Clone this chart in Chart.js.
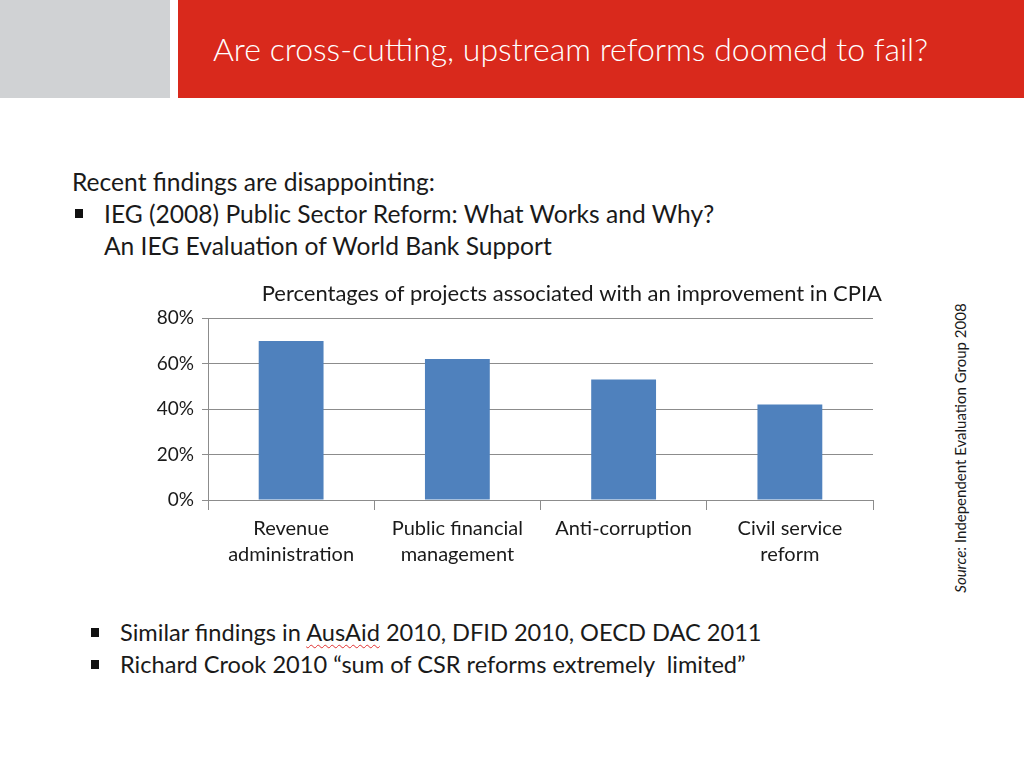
<!DOCTYPE html>
<html>
<head>
<meta charset="utf-8">
<script src="https://cdn.jsdelivr.net/npm/chart.js@4"></script>
<style>
  html, body { margin:0; padding:0; background:#fff; width:1024px; height:768px; overflow:hidden; font-family: Lato, "Open Sans", sans-serif; color:#1a1a1a; }
  .gray { position:absolute; left:0; top:0; width:170px; height:98px; background:#d0d2d4; }
  .red { position:absolute; left:178px; top:0; width:846px; height:98px; background:#d9291c; }
  .title { position:absolute; left:213px; top:29px; color:#fff; font-size:32px; font-weight:300; white-space:nowrap; line-height:40px; }
  .t { position:absolute; white-space:nowrap; font-size:24.6px; line-height:30px; }
  .t2 { position:absolute; white-space:nowrap; font-size:23.6px; line-height:30px; }
  .b { position:absolute; width:8px; height:9px; background:#111; }
  .wavy { text-decoration: underline wavy #e03030; text-decoration-thickness:1px; text-underline-offset:3px; }
  #wrap { position:absolute; left:130px; top:278px; width:760px; height:300px; }
  .src { position:absolute; left:960px; top:448px; transform: translate(-50%,-50%) rotate(-90deg); white-space:nowrap; font-size:15px; }
</style>
</head>
<body>
<div class="gray"></div>
<div class="red"></div>
<div class="title">Are cross-cutting, upstream reforms doomed to fail?</div>

<div class="t" style="left:72px; top:167px;">Recent findings are disappointing:</div>
<div class="b" style="left:75px; top:209px;"></div>
<div class="t" style="left:104px; top:199px;">IEG (2008) Public Sector Reform: What Works and Why?</div>
<div class="t" style="left:104px; top:231px;">An IEG Evaluation of World Bank Support</div>

<div class="b" style="left:91px; top:628px;"></div>
<div class="t2" style="left:120px; top:617px;">Similar findings in <span class="wavy">AusAid</span> 2010, DFID 2010, OECD DAC 2011</div>
<div class="b" style="left:91px; top:660px;"></div>
<div class="t2" style="left:120px; top:649px;">Richard Crook 2010 “sum of CSR reforms extremely&nbsp; limited”</div>

<div class="src"><i>Source</i>: Independent Evaluation Group 2008</div>

<div id="wrap"><canvas id="c"></canvas></div>

<script>
const categories = [["Revenue","administration"],["Public financial","management"],["Anti-corruption"],["Civil service","reform"]];
const values = [70, 62, 53, 42];
const yTicks = [0, 20, 40, 60, 80];
const chartTitle = "Percentages of projects associated with an improvement in CPIA";

const fontFam = 'Lato, "Open Sans", sans-serif';
new Chart(document.getElementById('c'), {
  type: 'bar',
  data: {
    labels: categories,
    datasets: [{ data: values, backgroundColor: '#4f81bd', borderWidth: 0, barPercentage: 0.39, categoryPercentage: 1.0 }]
  },
  options: {
    responsive: true,
    maintainAspectRatio: false,
    animation: false,
    layout: { padding: { left: 0, right: 8, top: 0, bottom: 0 } },
    plugins: {
      legend: { display: false },
      tooltip: { enabled: false },
      title: { display: true, text: chartTitle, align: 'end', color: '#1a1a1a',
               font: { family: fontFam, size: 22, weight: 'normal', lineHeight: 1.1 }, padding: { top: 4, bottom: 12 } }
    },
    scales: {
      y: {
        min: 0, max: 80,
        afterFit: (s) => { s.width = 78; },
        afterBuildTicks: (s) => { s.ticks = yTicks.map(v => ({ value: v })); },
        ticks: { callback: (v) => v + '%', color: '#1a1a1a', font: { family: fontFam, size: 19 }, padding: 8 },
        grid: { color: '#8c8c8c', lineWidth: 1, tickLength: 6, drawTicks: true },
        border: { display: true, color: '#8c8c8c' }
      },
      yR: {
        position: 'right', min: 0, max: 80,
        afterFit: (s) => { s.width = 9; },
        ticks: { display: false },
        grid: { display: false },
        border: { display: false }
      },
      x: {
        afterFit: (s) => { s.height = 78; },
        ticks: { color: '#1a1a1a', font: { family: fontFam, size: 20, lineHeight: 1.3 }, padding: 6, maxRotation: 0, autoSkip: false },
        grid: { display: true, offset: true, drawOnChartArea: false, color: '#8c8c8c', tickLength: 10 },
        border: { display: true, color: '#8c8c8c' }
      }
    }
  }
});
</script>
</body>
</html>
